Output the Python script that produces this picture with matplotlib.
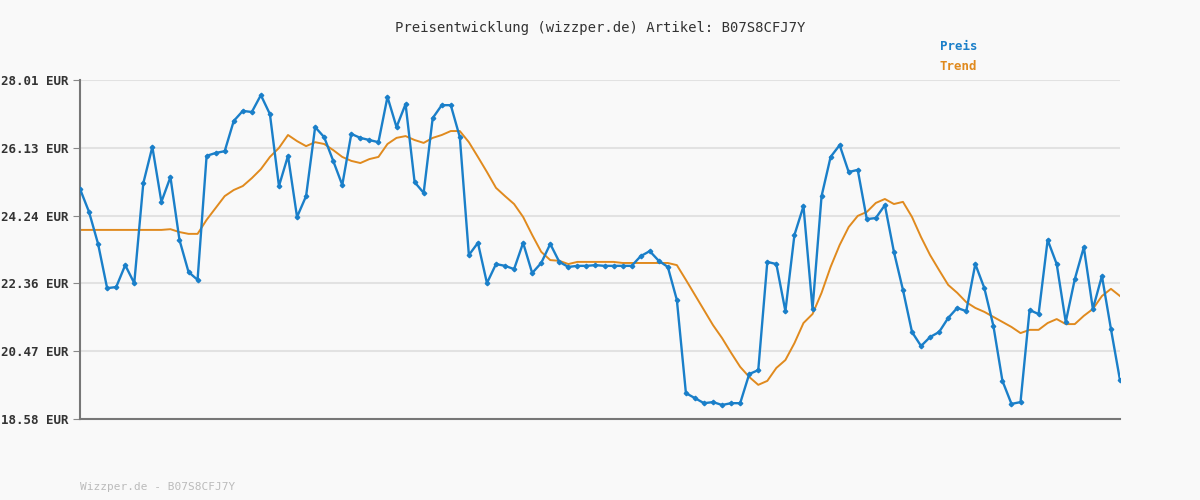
import numpy as np
import matplotlib.pyplot as plt

# Preis in EUR, one value per data point
preis = [24.98, 24.34, 23.45, 22.22, 22.25, 22.86, 22.36, 25.14, 26.15, 24.62,
         25.31, 23.56, 22.67, 22.45, 25.90, 25.98, 26.03, 26.87, 27.15, 27.12,
         27.59, 27.06, 25.06, 25.90, 24.20, 24.78, 26.70, 26.42, 25.76, 25.09,
         26.51, 26.40, 26.34, 26.28, 27.54, 26.70, 27.34, 25.17, 24.87, 26.95,
         27.31, 27.31, 26.42, 23.14, 23.48, 22.36, 22.89, 22.84, 22.75, 23.48,
         22.64, 22.92, 23.45, 22.95, 22.81, 22.84, 22.84, 22.86, 22.84, 22.84,
         22.84, 22.84, 23.11, 23.25, 22.98, 22.81, 21.89, 19.30, 19.16, 19.02,
         19.05, 18.97, 19.02, 19.02, 19.83, 19.94, 22.95, 22.89, 21.58, 23.70,
         24.50, 21.64, 24.78, 25.87, 26.20, 25.45, 25.51, 24.14, 24.17, 24.53,
         23.23, 22.17, 21.00, 20.61, 20.86, 21.00, 21.39, 21.67, 21.58, 22.89,
         22.22, 21.17, 19.64, 19.00, 19.05, 21.61, 21.50, 23.56, 22.89, 21.28,
         22.47, 23.36, 21.64, 22.56, 21.08, 19.66]

trend = [23.84] * 10 + [
         23.86, 23.78, 23.73, 23.73, 24.12, 24.45, 24.78, 24.95, 25.06, 25.28,
         25.53, 25.87, 26.12, 26.48, 26.31, 26.17, 26.28, 26.23, 26.06, 25.87,
         25.76, 25.70, 25.81, 25.87, 26.23, 26.40, 26.45, 26.34, 26.26, 26.40,
         26.48, 26.59, 26.59, 26.28, 25.87, 25.45, 25.01, 24.78, 24.56, 24.20,
         23.70, 23.23, 23.00, 22.98, 22.89, 22.95, 22.95, 22.95, 22.95, 22.95,
         22.92, 22.92, 22.92, 22.92, 22.92, 22.92, 22.86, 22.45, 22.03, 21.61,
         21.19, 20.83, 20.42, 20.03, 19.75, 19.53, 19.64, 20.00, 20.22, 20.69,
         21.25, 21.50, 22.09, 22.81, 23.42, 23.92, 24.23, 24.34, 24.59, 24.70,
         24.56, 24.62, 24.20, 23.64, 23.14, 22.72, 22.31, 22.09, 21.83, 21.67,
         21.56, 21.42, 21.28, 21.14, 20.97, 21.06, 21.06, 21.25, 21.36, 21.22,
         21.22, 21.45, 21.64, 22.00, 22.20, 22.00]

y_ticks = [18.58, 20.47, 22.36, 24.24, 26.13, 28.01]
artikel = "B07S8CFJ7Y"

blue = "#1a7fc9"
orange = "#e08a1e"
mono = "DejaVu Sans Mono"

fig = plt.figure(figsize=(12, 5), dpi=100, facecolor="#f9f9f9")
ax = fig.add_axes([80 / 1200, 1 - 419 / 500, 1040 / 1200, 339 / 500])
ax.set_facecolor("#f9f9f9")

ax.plot(np.arange(len(trend)), trend, color=orange, lw=1.4, zorder=2)
ax.plot(np.arange(len(preis)), preis, color=blue, lw=1.7, marker="D", ms=2.3, zorder=3)

ax.set_xlim(0, len(preis) - 1)
ax.set_ylim(y_ticks[0], y_ticks[-1])
ax.set_yticks(y_ticks)
ax.set_yticklabels([f"{v:.2f} EUR" for v in y_ticks], fontfamily=mono,
                   fontsize=9, fontweight="bold", color="#333333")
ax.set_xticks([])
ax.grid(axis="y", color="#e2e2e2", lw=1.5)
ax.tick_params(axis="y", length=5, color="#888888")
for s in ["top", "right"]:
    ax.spines[s].set_visible(False)
for s in ["left", "bottom"]:
    ax.spines[s].set_color("#777777")
    ax.spines[s].set_linewidth(1.5)

fig.text(0.5, 1 - 28 / 500, f"Preisentwicklung (wizzper.de) Artikel: {artikel}",
         ha="center", va="center", fontfamily=mono, fontsize=10, color="#333333")
fig.text(940 / 1200, 1 - 47 / 500, "Preis", fontfamily=mono, fontsize=9,
         fontweight="bold", color=blue, va="center")
fig.text(940 / 1200, 1 - 67 / 500, "Trend", fontfamily=mono, fontsize=9,
         fontweight="bold", color=orange, va="center")
fig.text(80 / 1200, 1 - 487 / 500, f"Wizzper.de - {artikel}", fontfamily=mono,
         fontsize=8, color="#bbbbbb", va="center")

fig.savefig("out.png", dpi=100, facecolor=fig.get_facecolor())
